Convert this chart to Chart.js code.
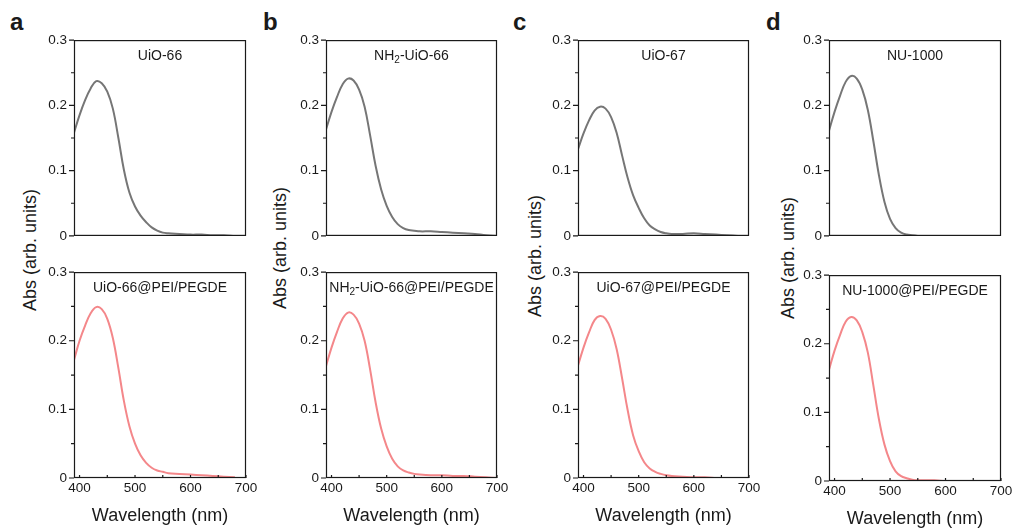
<!DOCTYPE html>
<html>
<head>
<meta charset="utf-8">
<script src="https://cdn.jsdelivr.net/npm/chart.js@4.4.1/dist/chart.umd.min.js"></script>
<style>
  body { margin: 0; background: #fff; width: 1015px; height: 531px; position: relative; overflow: hidden;
         font-family: "Liberation Sans", Arial, sans-serif; color: #1a1a1a; }
  canvas.plot { position: absolute; }
  .letter { position: absolute; font-weight: bold; font-size: 24px; line-height: 24px; }
  .ytitle { position: absolute; font-size: 18px; line-height: 18px; white-space: nowrap;
            transform: translate(-50%, -50%) rotate(-90deg); }
</style>
</head>
<body>
<div class="letter" style="left:10px;top:10px">a</div>
<div class="letter" style="left:263px;top:10px">b</div>
<div class="letter" style="left:513px;top:10px">c</div>
<div class="letter" style="left:766px;top:10px">d</div>
<div class="ytitle" style="left:30px;top:250px">Abs (arb. units)</div>
<div class="ytitle" style="left:280px;top:248px">Abs (arb. units)</div>
<div class="ytitle" style="left:535px;top:256px">Abs (arb. units)</div>
<div class="ytitle" style="left:788px;top:258px">Abs (arb. units)</div>
<script>
// UV-vis absorbance, wavelength in nm
const wavelength = [390, 400, 410, 420, 430, 440, 450, 460, 470, 480, 490, 500, 510, 520, 530, 540, 550, 560, 580, 600, 620, 640, 660, 680, 700];

const uio66       = [0.158, 0.185, 0.208, 0.226, 0.237, 0.234, 0.221, 0.195, 0.150, 0.101, 0.066, 0.045, 0.031, 0.021, 0.013, 0.008, 0.005, 0.004, 0.003, 0.002, 0.002, 0.001, 0.001, 0.000, null];
const uio66Peg    = [0.172, 0.200, 0.222, 0.240, 0.249, 0.246, 0.232, 0.204, 0.160, 0.112, 0.075, 0.050, 0.033, 0.022, 0.015, 0.011, 0.009, 0.007, 0.006, 0.005, 0.004, 0.003, 0.002, 0.001, null];
const nh2uio66    = [0.163, 0.190, 0.213, 0.232, 0.241, 0.238, 0.224, 0.198, 0.154, 0.107, 0.071, 0.046, 0.029, 0.018, 0.012, 0.009, 0.008, 0.007, 0.007, 0.006, 0.005, 0.004, 0.003, 0.001, 0.000];
const nh2uio66Peg = [0.163, 0.190, 0.213, 0.232, 0.241, 0.238, 0.225, 0.200, 0.158, 0.110, 0.072, 0.046, 0.028, 0.017, 0.011, 0.008, 0.006, 0.005, 0.004, 0.004, 0.003, 0.003, 0.002, 0.001, 0.000];
const uio67       = [0.133, 0.157, 0.177, 0.192, 0.198, 0.195, 0.182, 0.158, 0.123, 0.089, 0.062, 0.043, 0.027, 0.016, 0.010, 0.006, 0.004, 0.003, 0.003, 0.004, 0.003, 0.002, 0.001, 0.000, null];
const uio67Peg    = [0.164, 0.190, 0.212, 0.230, 0.236, 0.232, 0.216, 0.188, 0.145, 0.099, 0.062, 0.039, 0.023, 0.014, 0.009, 0.006, 0.004, 0.003, 0.002, 0.001, 0.001, 0.000, null, null, null];
const nu1000      = [0.161, 0.190, 0.215, 0.236, 0.245, 0.241, 0.224, 0.193, 0.145, 0.093, 0.052, 0.026, 0.012, 0.005, 0.002, 0.001, 0.000, null, null, null, null, null, null, null, null];
const nu1000Peg   = [0.162, 0.190, 0.213, 0.232, 0.239, 0.234, 0.217, 0.187, 0.139, 0.090, 0.053, 0.029, 0.014, 0.007, 0.004, 0.002, 0.001, 0.001, 0.001, 0.000, 0.000, 0.000, 0.000, 0.000, null];

const sampleNames = ['UiO-66', 'NH_2-UiO-66', 'UiO-67', 'NU-1000'];
const coating = '@PEI/PEGDE';
const bareSeries = [uio66, nh2uio66, uio67, nu1000];
const coatedSeries = [uio66Peg, nh2uio66Peg, uio67Peg, nu1000Peg];

const xTicks = [400, 500, 600, 700];
const xMinor = [450, 550, 650];
const yTicks = [0, 0.1, 0.2, 0.3];
const yMinor = [0.05, 0.15, 0.25];

// plot-area boxes for the four columns
const colLeft  = [74, 326, 578, 829];
const colWidth = [172, 171, 171, 172];
const topRow    = [{ y: 35, h: 212 }, { y: 35, h: 212 }, { y: 35, h: 212 }, { y: 35, h: 212 }];
const bottomRow = [{ y: 267, h: 211 }, { y: 267, h: 211 }, { y: 267, h: 211 }, { y: 270, h: 211 }];

const GRAY = '#767676';
const PINK = '#f4878a';
const INK = '#1a1a1a';
const FONT = '"Liberation Sans", Arial, sans-serif';

const Y_AXIS_W = 50, PAD_TOP = 10, PAD_RIGHT = 16;

// text with "_n" marking a subscript digit
function drawLabel(ctx, text, cx, cy) {
  const parts = text.split(/_(\d)/);
  const big = '14px ' + FONT, small = '10px ' + FONT;
  let total = 0;
  parts.forEach((p, i) => { ctx.font = i % 2 ? small : big; total += ctx.measureText(p).width; });
  let x = cx - total / 2;
  ctx.textBaseline = 'middle';
  ctx.textAlign = 'left';
  ctx.fillStyle = INK;
  parts.forEach((p, i) => {
    ctx.font = i % 2 ? small : big;
    ctx.fillText(p, x, i % 2 ? cy + 4 : cy);
    x += ctx.measureText(p).width;
  });
}

const framePlugin = {
  id: 'frame',
  afterDatasetsDraw(chart, args, opts) {
    const { ctx, chartArea: a, scales } = chart;
    ctx.save();
    ctx.strokeStyle = INK;
    ctx.lineWidth = 1.2;
    ctx.strokeRect(a.left + 0.5, a.top + 0.5, a.right - a.left - 1, a.bottom - a.top - 1);
    ctx.beginPath();
    yTicks.forEach(v => { const y = scales.y.getPixelForValue(v); ctx.moveTo(a.left, y); ctx.lineTo(a.left - 5, y); });
    yMinor.forEach(v => { const y = scales.y.getPixelForValue(v); ctx.moveTo(a.left, y); ctx.lineTo(a.left - 3, y); });
    if (opts.xTicks) {
      xTicks.concat(xMinor).forEach(v => {
        const x = scales.x.getPixelForValue(v);
        ctx.moveTo(x, a.bottom); ctx.lineTo(x, a.bottom - 3);
      });
    }
    ctx.stroke();
    drawLabel(ctx, opts.label, (a.left + a.right) / 2, a.top + 16);
    ctx.restore();
  }
};

function addPlot(left, width, row, values, color, label, withX) {
  const xh = withX ? 53 : 4;
  const canvas = document.createElement('canvas');
  canvas.className = 'plot';
  canvas.width = width + Y_AXIS_W + PAD_RIGHT;
  canvas.height = row.h + PAD_TOP + xh;
  canvas.style.left = (left - Y_AXIS_W) + 'px';
  canvas.style.top = (row.y - PAD_TOP) + 'px';
  document.body.appendChild(canvas);

  new Chart(canvas.getContext('2d'), {
    type: 'line',
    data: {
      datasets: [{
        data: wavelength.map((x, i) => ({ x: x, y: values[i] })),
        borderColor: color,
        borderWidth: 2,
        pointRadius: 0,
        fill: false,
        tension: 0.4
      }]
    },
    options: {
      responsive: false,
      animation: false,
      devicePixelRatio: 1,
      layout: { autoPadding: false, padding: { top: PAD_TOP, right: PAD_RIGHT, left: 0, bottom: 0 } },
      plugins: {
        legend: { display: false },
        tooltip: { enabled: false },
        frame: { label: label, xTicks: withX }
      },
      scales: {
        x: {
          type: 'linear', min: 390, max: 700,
          grid: { display: false, drawTicks: false },
          border: { display: false },
          afterBuildTicks: s => { s.ticks = xTicks.map(v => ({ value: v })); },
          afterFit: s => { s.height = xh; },
          ticks: { display: withX, padding: 2, color: INK, font: { family: FONT, size: 13.5 } },
          title: { display: withX, text: 'Wavelength (nm)', color: INK,
                   font: { family: FONT, size: 18 }, padding: { top: 0, bottom: 4 } }
        },
        y: {
          min: 0, max: 0.3,
          grid: { display: false, drawTicks: false },
          border: { display: false },
          afterBuildTicks: s => { s.ticks = yTicks.map(v => ({ value: v })); },
          afterFit: s => { s.width = Y_AXIS_W; },
          ticks: { padding: 7, color: INK, font: { family: FONT, size: 13.5 },
                   callback: v => (v === 0 ? '0' : v.toFixed(1)) }
        }
      }
    },
    plugins: [framePlugin]
  });
}

for (let i = 0; i < 4; i++) {
  addPlot(colLeft[i], colWidth[i], topRow[i], bareSeries[i], GRAY, sampleNames[i], false);
  addPlot(colLeft[i], colWidth[i], bottomRow[i], coatedSeries[i], PINK, sampleNames[i] + coating, true);
}
</script>
</body>
</html>
